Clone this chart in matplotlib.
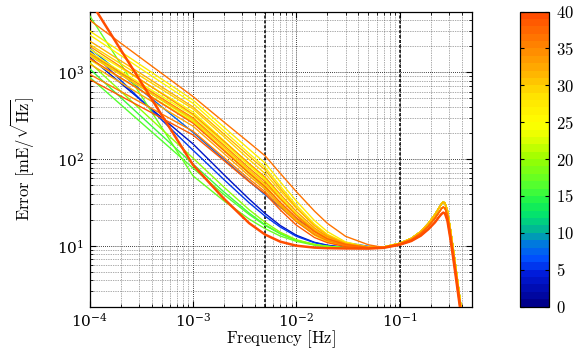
import numpy as np
import matplotlib
matplotlib.use("Agg")
import matplotlib.pyplot as plt
from matplotlib.colors import LinearSegmentedColormap, Normalize
from matplotlib.cm import ScalarMappable

plt.rcParams["mathtext.fontset"] = "cm"
plt.rcParams["font.family"] = "serif"
plt.rcParams["font.serif"] = ["DejaVu Serif"]

# Frecuencias de la parte baja (cada curva tiene sus propios valores)
freq_low = [1e-4, 3e-4, 1e-3, 2e-3, 3.5e-3, 5e-3, 7e-3, 1e-2, 1.5e-2, 2e-2, 3e-2, 5e-2]
# Frecuencias de la resonancia (comun a todas)
freq_tail = [7e-2, 0.1, 0.13, 0.16, 0.19, 0.22, 0.24, 0.255, 0.265, 0.275,
             0.29, 0.31, 0.33, 0.35, 0.37, 0.39, 0.41]

# Valor de la barra de color de cada curva
curve_value = [3, 5, 7, 15, 16, 17, 19, 22, 24, 25, 26, 27, 28, 29, 30, 31,
               32, 33, 34, 35, 36, 37, 38, 39.5]

# Error [mE/sqrt(Hz)] en freq_low
err_low = [
    [1500, 500, 150, 66, 34.6, 23.6, 17.2, 13.3, 11.0, 10.2, 9.6, 9.4],
    [1800, 508, 127, 58, 31.4, 22.0, 16.5, 12.9, 10.9, 10.1, 9.6, 9.4],
    [1900, 654, 204, 99, 55.6, 38.7, 28.0, 20.4, 15.1, 12.8, 10.9, 9.9],
    [1100, 328, 87.9, 41.8, 23.9, 17.5, 13.9, 11.6, 10.3, 9.85, 9.5, 9.4],
    [880, 278, 79, 39, 23, 17.2, 13.8, 11.6, 10.4, 9.9, 9.55, 9.4],
    [4500, 591, 64.3, 33, 20.4, 15.8, 13.0, 11.3, 10.2, 9.8, 9.5, 9.4],
    [1300, 388, 103, 47.4, 26.1, 18.7, 14.4, 11.8, 10.4, 9.9, 9.5, 9.4],
    [1600, 697, 280, 127, 68, 46, 29.6, 19.5, 13.4, 11.3, 10.0, 9.5],
    [1700, 766, 320, 152, 84, 58, 36.9, 23.6, 15.4, 12.4, 10.4, 9.6],
    [1850, 836, 350, 163, 88, 60, 37, 22.9, 14.7, 11.9, 10.1, 9.5],
    [2700, 1137, 440, 211, 116, 80, 48.9, 29.6, 17.9, 13.6, 10.8, 9.6],
    [3000, 1252, 480, 233, 130, 90, 54.8, 33, 19.6, 14.6, 11.1, 9.7],
    [1400, 639, 270, 130, 72, 50, 31, 19.7, 13.3, 11.1, 9.9, 9.4],
    [2100, 929, 380, 181, 99, 68, 43, 27.2, 17.2, 13.4, 10.8, 9.7],
    [1550, 697, 290, 137, 75, 52, 34.4, 22.8, 15.4, 12.6, 10.6, 9.65],
    [2300, 999, 400, 194, 108, 75, 45.9, 27.9, 17.1, 13.2, 10.6, 9.6],
    [1250, 569, 240, 116, 64, 45, 29.9, 20.2, 14.0, 11.8, 10.2, 9.55],
    [2000, 847, 330, 160, 89, 62, 39.4, 25, 16.1, 12.8, 10.6, 9.6],
    [1650, 732, 300, 144, 79, 55, 35.1, 22.5, 14.9, 12.1, 10.3, 9.5],
    [950, 462, 210, 104, 59, 42, 28.1, 19, 13.5, 11.5, 10.1, 9.5],
    [4000, 1520, 527, 267, 155, 109, 68.6, 42.3, 25.2, 18.2, 12.9, 10.3],
    [1450, 639, 260, 125, 69, 48, 31.8, 21.2, 14.6, 12.1, 10.4, 9.6],
    [830, 411, 190, 96, 55, 40, 26, 17.4, 12.5, 10.9, 9.8, 9.4],
    [6800, 844, 86.1, 34.9, 18.3, 13.5, 11.2, 10.06, 9.56, 9.42, 9.35, 9.31],
]

# Resonancia: tres alturas de pico
tail_high = [9.7, 10.7, 12.2, 14.6, 18.2, 23, 27.3, 30.6, 32, 31, 25.5, 15.5, 9.3, 5.6, 3.4, 2.1, 1.35]
tail_mid = [9.6, 10.5, 11.8, 13.9, 16.9, 20.9, 24.3, 27, 28, 27.2, 22.5, 13.8, 8.3, 5, 3.05, 1.9, 1.2]
tail_low = [9.5, 10.3, 11.4, 13.1, 15.6, 18.7, 21.5, 23.4, 24.2, 23.6, 19.6, 12.1, 7.3, 4.4, 2.7, 1.7, 1.1]
tails = {"high": tail_high, "mid": tail_mid, "low": tail_low}
tail_group = ["high"] * 16 + ["mid"] * 6 + ["low"] * 2

cbar_ticks = [0, 5, 10, 15, 20, 25, 30, 35, 40]

# Mapa de colores tipo "jet" desplazado
cmap = LinearSegmentedColormap.from_list("err", [
    (0.0, (0.0, 0.0, 0.55)),
    (0.1, (0.0, 0.1, 0.85)),
    (0.15, (0.0, 0.3, 1.0)),
    (0.2, (0.0, 0.45, 0.9)),
    (0.25, (0.0, 0.7, 0.6)),
    (0.3, (0.0, 0.88, 0.45)),
    (0.35, (0.1, 0.95, 0.3)),
    (0.4, (0.3, 1.0, 0.2)),
    (0.5, (0.6, 1.0, 0.0)),
    (0.575, (0.9, 1.0, 0.0)),
    (0.625, (1.0, 1.0, 0.0)),
    (0.725, (1.0, 0.88, 0.0)),
    (0.8, (1.0, 0.7, 0.0)),
    (0.9, (1.0, 0.5, 0.0)),
    (1.0, (1.0, 0.3, 0.0)),
], N=40)
norm = Normalize(0, 40)

fig = plt.figure(figsize=(5.74, 3.52), dpi=100)
ax = fig.add_axes([0.156, 0.129, 0.666, 0.838])

freq = np.concatenate([freq_low, freq_tail])
for v, vals, g in zip(curve_value, err_low, tail_group):
    err = np.concatenate([vals, tails[g]])
    lw = 1.8 if v > 39 else 1.0
    ax.loglog(freq, err, color=cmap(norm(v)), lw=lw, zorder=3)

ax.set_xlim(1e-4, 0.5)
ax.set_ylim(2, 5000)

ax.grid(which="major", color="k", ls=(0, (1, 1.5)), lw=0.6)
ax.grid(which="minor", color="0.35", ls=(0, (1, 1.5)), lw=0.5)
for fx in (5e-3, 1e-1):
    ax.axvline(fx, color="k", ls=(0, (2, 1.2)), lw=1.1, zorder=2)

ax.tick_params(which="both", direction="in", top=True, right=True, labelsize=11)
ax.tick_params(which="major", length=4, pad=4)
ax.tick_params(which="minor", length=2)
for s in ax.spines.values():
    s.set_linewidth(0.9)

ax.set_xlabel(r"$\mathrm{Frequency\ [Hz]}$", fontsize=12)
ax.set_ylabel(r"$\mathrm{Error}\ [\mathrm{mE}/\sqrt{\mathrm{Hz}}]$", fontsize=12)
ax.xaxis.set_label_coords(0.5, -0.075)
ax.yaxis.set_label_coords(-0.14, 0.5)

cax = fig.add_axes([0.906, 0.129, 0.0505, 0.838])
sm = ScalarMappable(norm=norm, cmap=cmap)
cb = fig.colorbar(sm, cax=cax, ticks=cbar_ticks)
cb.ax.set_yticklabels(["$%d$" % t for t in cbar_ticks])
cb.ax.tick_params(direction="in", left=True, right=True, length=3, labelsize=12, pad=5)
cb.outline.set_linewidth(0.9)

fig.savefig("out.png", dpi=100)
